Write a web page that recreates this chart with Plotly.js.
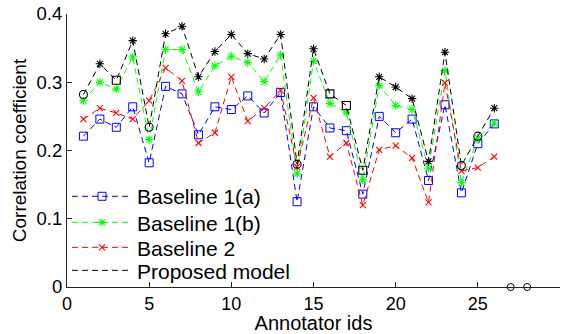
<!DOCTYPE html>
<html>
<head>
<meta charset="utf-8">
<script src="https://cdn.plot.ly/plotly-3.0.1.min.js"></script>
<style>html,body{margin:0;padding:0;background:#fff;}#chart{width:570px;height:334px;}</style>
</head>
<body>
<div id="chart"></div>
<script>
const ids = [1,2,3,4,5,6,7,8,9,10,11,12,13,14,15,16,17,18,19,20,21,22,23,24,25,26];
const baseline1a = [0.221,0.246,0.234,0.264,0.182,0.294,0.283,0.223,0.264,0.260,0.280,0.255,0.285,0.125,0.264,0.233,0.229,0.136,0.250,0.226,0.246,0.156,0.267,0.138,0.210,0.239];
const baseline1b = [0.273,0.300,0.290,0.337,0.216,0.348,0.348,0.286,0.324,0.338,0.329,0.301,0.340,0.166,0.331,0.269,0.256,0.157,0.295,0.266,0.260,0.174,0.317,0.153,0.218,0.240];
const baseline2 = [0.246,0.262,0.255,0.246,0.273,0.321,0.302,0.211,0.226,0.308,0.243,0.262,0.288,0.176,0.277,0.191,0.211,0.120,0.201,0.207,0.189,0.124,0.299,0.170,0.175,0.191];
const proposed = [0.282,0.327,0.303,0.361,0.234,0.371,0.382,0.308,0.345,0.370,0.342,0.334,0.370,0.180,0.349,0.283,0.266,0.171,0.308,0.293,0.276,0.184,0.344,0.178,0.221,0.262];
const proposedMarker = ['o','*','s','*','o','*','*','*','*','*','*','*','*','o','*','s','s','s','*','*','*','*','*','o','o','*'];
const extraIds = [27,28];
const extraValues = [0,0];
const seriesNames = ['Baseline 1(a)','Baseline 1(b)','Baseline 2','Proposed model'];
const xTicks = [0,5,10,15,20,25,30];
const yTicks = [0,0.1,0.2,0.3,0.4];

const dash = '6px,4px';
const traces = [
  {x: ids, y: baseline1a, name: seriesNames[0], mode: 'lines+markers', legend: 'legend',
   line: {color: '#0000ff', width: 1, dash: dash},
   marker: {symbol: 'square-open', size: 8, color: '#0000ff', line: {width: 1, color: '#0000ff'}}},
  {x: ids, y: baseline1b, name: seriesNames[1], mode: 'lines+markers', legend: 'legend2',
   line: {color: '#00ff00', width: 1, dash: dash},
   marker: {symbol: 'asterisk-open', size: 7, color: '#00ff00', line: {width: 1.1, color: '#00ff00'}}},
  {x: ids, y: baseline2, name: seriesNames[2], mode: 'lines+markers', legend: 'legend3',
   line: {color: '#ff0000', width: 1, dash: dash},
   marker: {symbol: 'x-thin-open', size: 6, color: '#ff0000', line: {width: 1.1, color: '#ff0000'}}},
  {x: ids, y: proposed, name: seriesNames[3], mode: 'lines', legend: 'legend4',
   line: {color: '#000000', width: 1, dash: dash}}
];
const symMap = {'*': 'asterisk-open', 'o': 'circle-open', 's': 'square-open'};
['*','o','s'].forEach(k => {
  const xs = [], ys = [];
  ids.forEach((id, i) => { if (proposedMarker[i] === k) { xs.push(id); ys.push(proposed[i]); } });
  traces.push({x: xs, y: ys, mode: 'markers', showlegend: false, hoverinfo: 'skip',
    marker: {symbol: symMap[k], size: k === '*' ? 7 : 8, color: '#000', line: {width: 1.1, color: '#000'}}});
});
traces.push({x: extraIds, y: extraValues, mode: 'markers', showlegend: false, cliponaxis: false,
  marker: {symbol: 'circle-open', size: 7, color: '#000', line: {width: 1, color: '#000'}}});

const font = 'Liberation Sans, Arial, Helvetica, sans-serif';
function leg(y) {
  return {x: 0.0, y: y, xanchor: 'left', yanchor: 'middle', bgcolor: 'rgba(0,0,0,0)',
    font: {family: font, size: 21, color: '#000'}, itemwidth: 60};
}
const layout = {
  width: 570, height: 334,
  margin: {l: 66.5, r: 10, t: 14, b: 47},
  paper_bgcolor: '#fff', plot_bgcolor: '#fff',
  font: {family: font, size: 18, color: '#000'},
  showlegend: true,
  legend: leg(0.331),
  legend2: leg(0.2355),
  legend3: leg(0.144),
  legend4: leg(0.0597),
  xaxis: {range: [0, 30], tickvals: xTicks, ticktext: xTicks.map(String), ticks: 'inside', ticklen: 5,
    tickcolor: '#222', showline: true, linecolor: '#222', linewidth: 1, showgrid: false, zeroline: false,
    tickfont: {size: 18}, title: {text: 'Annotator ids', font: {size: 20}, standoff: 5}},
  yaxis: {range: [0, 0.4], tickvals: yTicks, ticktext: yTicks.map(v => String(v)), ticks: 'inside', ticklen: 5,
    tickcolor: '#222', showline: true, linecolor: '#222', linewidth: 1, showgrid: false, zeroline: false,
    tickfont: {size: 18.5}, title: {text: 'Correlation coefficient', font: {size: 19}, standoff: 4}}
};
Plotly.newPlot('chart', traces, layout, {displayModeBar: false, staticPlot: true});
</script>
</body>
</html>
